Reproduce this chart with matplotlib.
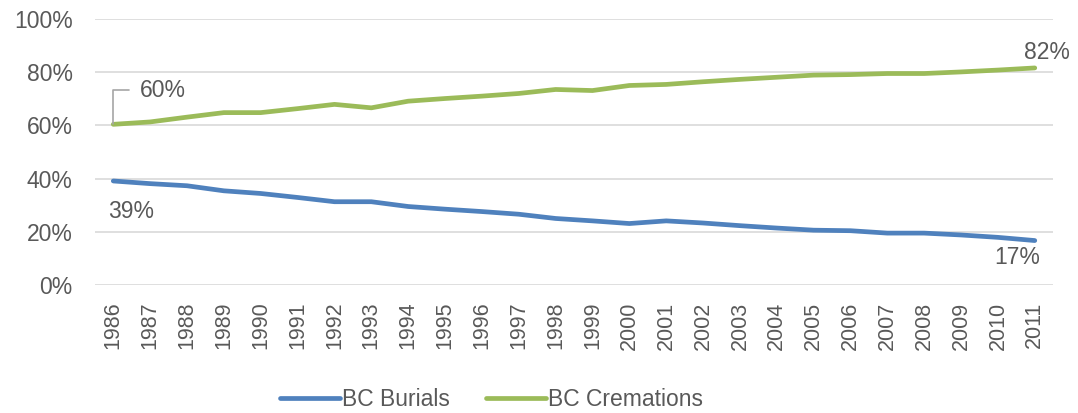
import matplotlib
matplotlib.use("Agg")
import matplotlib.pyplot as plt

plt.rcParams['font.family'] = ['Liberation Sans', 'DejaVu Sans']

years = [str(y) for y in range(1986, 2012)]
burials = [39.1, 38.1, 37.3, 35.4, 34.4, 32.9, 31.3, 31.3, 29.5, 28.5, 27.6, 26.6, 25.0,
           24.1, 23.1, 24.1, 23.3, 22.3, 21.4, 20.6, 20.4, 19.5, 19.5, 18.8, 17.9, 16.7]
cremations = [60.4, 61.3, 63.1, 64.8, 64.8, 66.3, 67.9, 66.6, 69.1, 70.1, 71.0, 72.0, 73.5,
              73.1, 75.0, 75.4, 76.4, 77.3, 78.1, 78.9, 79.1, 79.5, 79.5, 80.1, 80.8, 81.6]
series_names = ['BC Burials', 'BC Cremations']

blue = '#4F81BD'
green = '#9BBB59'
text_col = '#595959'

fig = plt.figure(figsize=(10.78, 4.13), dpi=100)
ax = fig.add_axes([0.088, 0.31, 0.889, 0.644])

x = list(range(len(years)))
ax.plot(x, burials, color=blue, lw=3.4, label=series_names[0], solid_capstyle='round')
ax.plot(x, cremations, color=green, lw=3.4, label=series_names[1], solid_capstyle='round')

ax.set_xlim(-0.5, len(years) - 0.5)
ax.set_ylim(0, 100)
ax.set_yticks(range(0, 101, 20))
ax.set_yticklabels([f'{v}%' for v in range(0, 101, 20)])
ax.set_xticks(x)
ax.set_xticklabels(years, rotation=90)
ax.tick_params(axis='y', length=0, pad=16, labelsize=16.5, labelcolor=text_col)
ax.tick_params(axis='x', length=0, pad=12, labelsize=15.5, labelcolor=text_col)
ax.grid(axis='y', color='#D9D9D9', lw=1.2)
ax.set_axisbelow(True)
for s in ax.spines.values():
    s.set_visible(False)

# data labels
ax.annotate(f'{cremations[0]:.0f}%', xy=(x[0], cremations[0]), xytext=(0.72, 73.3),
            ha='left', va='center', fontsize=16.5, color=text_col,
            arrowprops=dict(arrowstyle='-', color='#A6A6A6', lw=1.2, relpos=(0, 0.5),
                            connectionstyle='angle,angleA=0,angleB=90,rad=0',
                            shrinkA=6, shrinkB=0))
ax.annotate(f'{burials[0]:.0f}%', xy=(x[0], burials[0]), xytext=(-0.15, 27.5),
            ha='left', va='center', fontsize=16.5, color=text_col)
ax.annotate(f'{cremations[-1]:.0f}%', xy=(x[-1], cremations[-1]), xytext=(x[-1] - 0.3, 87.5),
            ha='left', va='center', fontsize=16.5, color=text_col, annotation_clip=False)
ax.annotate(f'{burials[-1]:.0f}%', xy=(x[-1], burials[-1]), xytext=(x[-1] + 0.15, 10.3),
            ha='right', va='center', fontsize=16.5, color=text_col)

leg = fig.legend(loc='center', bbox_to_anchor=(0.456, 0.032), ncol=2, frameon=False,
                 fontsize=16.5, handlelength=2.6, handletextpad=0.1, columnspacing=1.6)
for t in leg.get_texts():
    t.set_color(text_col)

fig.savefig('out.png', dpi=100)
